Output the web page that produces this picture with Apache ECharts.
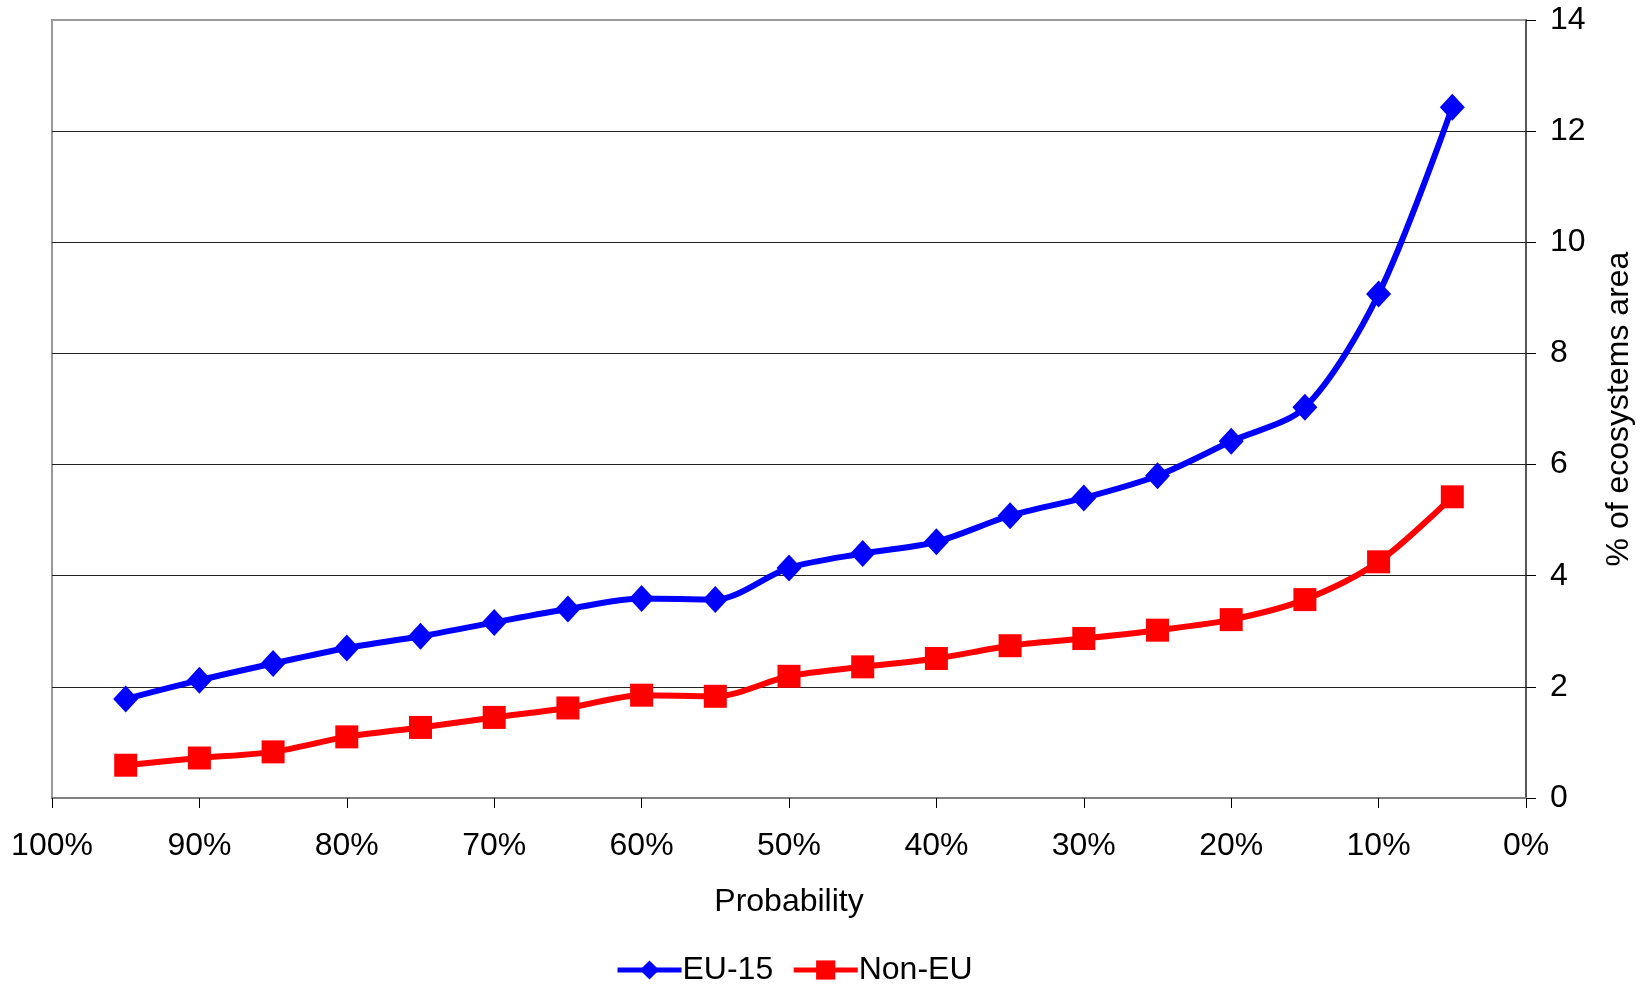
<!DOCTYPE html>
<html>
<head>
<meta charset="utf-8">
<script src="https://cdn.jsdelivr.net/npm/echarts@6/dist/echarts.min.js"></script>
<style>
html,body{margin:0;padding:0;background:#fff;}
#chart{width:1647px;height:984px;}
</style>
</head>
<body>
<div id="chart"></div>
<script>
// Probability (%) for each point
var probability = [95, 90, 85, 80, 75, 70, 65, 60, 55, 50, 45, 40, 35, 30, 25, 20, 15, 10, 5];
// % of ecosystems area
var eu15 = [1.78, 2.12, 2.42, 2.70, 2.91, 3.16, 3.40, 3.59, 3.57, 4.14, 4.40, 4.61, 5.08, 5.40, 5.80, 6.42, 7.03, 9.07, 12.43];
var nonEU = [0.59, 0.72, 0.83, 1.10, 1.27, 1.45, 1.62, 1.85, 1.83, 2.19, 2.36, 2.51, 2.74, 2.87, 3.02, 3.21, 3.57, 4.25, 5.42];
var seriesNames = ['EU-15', 'Non-EU'];
var xAxisTitle = 'Probability';
var yAxisTitle = '% of ecosystems area';

function pairs(vals) {
  return probability.map(function (p, i) { return [p, vals[i]]; });
}

var font = '"Liberation Sans", Arial, sans-serif';
var chart = echarts.init(document.getElementById('chart'), null, {renderer: 'canvas'});
chart.setOption({
  backgroundColor: '#ffffff',
  animation: false,
  textStyle: {fontFamily: font, color: '#000'},
  grid: {
    left: 52, right: 121, top: 20, bottom: 186,
    show: true, borderColor: '#9a9a9a', borderWidth: 2, backgroundColor: 'transparent'
  },
  legend: {
    bottom: -7,
    left: 610,
    itemWidth: 64,
    itemHeight: 24,
    itemGap: 18,
    lineStyle: {width: 5},
    textStyle: {fontFamily: font, fontSize: 32, color: '#000', padding: [0, 0, 0, -4]},
    data: seriesNames
  },
  xAxis: {
    type: 'value',
    min: 0, max: 100, interval: 10,
    inverse: true,
    name: xAxisTitle,
    nameLocation: 'middle',
    nameGap: 88,
    nameTextStyle: {fontFamily: font, fontSize: 32, color: '#000'},
    axisLine: {show: true, lineStyle: {color: '#808080', width: 2}},
    axisTick: {show: true, inside: false, length: 10, lineStyle: {color: '#000', width: 1}},
    axisLabel: {fontFamily: font, fontSize: 32, color: '#000', margin: 32, formatter: '{value}%'},
    splitLine: {show: false}
  },
  yAxis: {
    type: 'value',
    position: 'right',
    min: 0, max: 14, interval: 2,
    name: yAxisTitle,
    nameLocation: 'middle',
    nameRotate: 90,
    nameGap: 77,
    nameTextStyle: {fontFamily: font, fontSize: 32, color: '#000'},
    axisLine: {show: true, onZero: false, lineStyle: {color: '#404040', width: 1.5}},
    axisTick: {show: true, inside: false, length: 10, lineStyle: {color: '#000', width: 1}},
    axisLabel: {fontFamily: font, fontSize: 32, color: '#000', margin: 24},
    splitLine: {show: true, showMaxLine: false, showMinLine: false, lineStyle: {color: '#222', width: 1.2}}
  },
  series: [
    {
      name: seriesNames[0],
      type: 'line',
      data: pairs(eu15),
      smooth: 0.3,
      symbol: 'diamond',
      symbolSize: [25, 27],
      lineStyle: {color: '#0000ff', width: 6},
      itemStyle: {color: '#0000ff'},
      z: 3
    },
    {
      name: seriesNames[1],
      type: 'line',
      data: pairs(nonEU),
      smooth: 0.3,
      symbol: 'rect',
      symbolSize: 23,
      lineStyle: {color: '#ff0000', width: 6},
      itemStyle: {color: '#ff0000'},
      z: 3
    }
  ]
});
</script>
</body>
</html>
